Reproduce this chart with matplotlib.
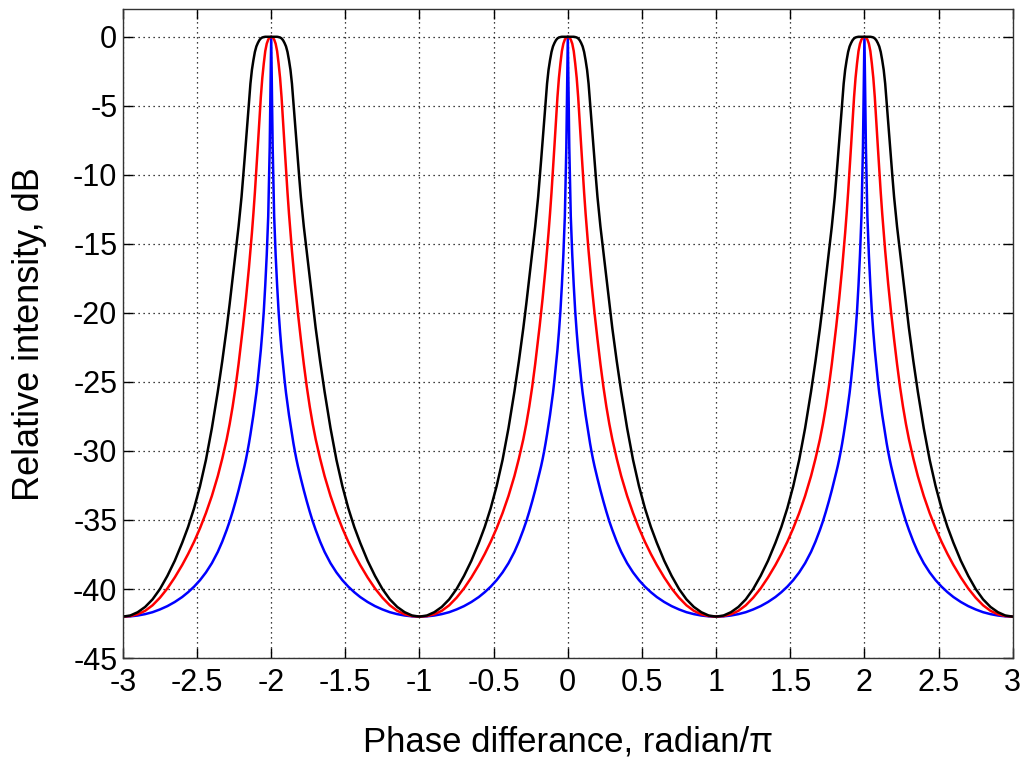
import matplotlib.pyplot as plt
import numpy as np

plt.rcParams['font.family'] = ['Liberation Sans', 'DejaVu Sans']
plt.rcParams['axes.unicode_minus'] = False

# half period (phase / pi from 0 to 1)
phase_half = [0, 0.01, 0.02, 0.03, 0.04, 0.05, 0.06, 0.07, 0.08, 0.09, 0.10,
              0.11, 0.12, 0.13, 0.14, 0.15, 0.16, 0.17, 0.18, 0.19, 0.20,
              0.22, 0.24, 0.26, 0.28, 0.30, 0.33, 0.36, 0.40, 0.44, 0.48,
              0.52, 0.56, 0.60, 0.65, 0.70, 0.75, 0.80, 0.85, 0.90, 0.95, 1.00]

blue_db = [0, -8.0, -13.0, -15.8, -18.0, -19.9, -21.4, -22.7, -23.8, -24.85, -25.8,
           -26.6, -27.4, -28.1, -28.8, -29.45, -30.05, -30.6, -31.1, -31.55, -32.0,
           -32.85, -33.65, -34.4, -35.1, -35.72, -36.57, -37.31, -38.13, -38.8, -39.36,
           -39.83, -40.23, -40.58, -40.94, -41.24, -41.48, -41.68, -41.82, -41.92, -41.98, -42.0]

red_db = [0, -0.05, -0.2, -0.5, -1.04, -1.94, -2.99, -4.39, -6.09, -7.89, -9.64,
          -11.29, -12.81, -14.21, -15.51, -16.73, -17.88, -18.96, -19.99, -20.97, -21.91,
          -23.71, -25.35, -26.79, -28.05, -29.15, -30.56, -31.82, -33.26, -34.5, -35.6,
          -36.58, -37.46, -38.26, -39.16, -39.96, -40.63, -41.18, -41.58, -41.83, -41.96, -42.0]

black_db = [0, 0, 0, 0, 0, -0.02, -0.05, -0.12, -0.25, -0.45, -0.7,
            -1.1, -1.7, -2.4, -3.4, -4.8, -6.2, -7.6, -8.95, -10.3, -11.6,
            -13.75, -15.6, -17.5, -19.35, -21.1, -23.5, -25.7, -28.35, -30.65, -32.55,
            -34.15, -35.5, -36.65, -37.95, -39.05, -40.0, -40.75, -41.3, -41.68, -41.92, -42.0]

peaks = [-2, 0, 2]
x_ticks = [-3, -2.5, -2, -1.5, -1, -0.5, 0, 0.5, 1, 1.5, 2, 2.5, 3]
y_ticks = [0, -5, -10, -15, -20, -25, -30, -35, -40, -45]


def full_curve(half):
    xs = np.array(phase_half)
    ys = np.array(half)
    # one period from -1 to 1 (mirror of the read half)
    xp = np.concatenate([-xs[::-1], xs[1:]])
    yp = np.concatenate([ys[::-1], ys[1:]])
    X, Y = [], []
    for i, c in enumerate(peaks):
        if i == 0:
            X.append(xp + c)
            Y.append(yp)
        else:
            X.append(xp[1:] + c)
            Y.append(yp[1:])
    return np.concatenate(X), np.concatenate(Y)


fig = plt.figure(figsize=(10.24, 7.64), dpi=100)
ax = fig.add_axes([0.120, 0.1387, 0.869, 0.8493])

for data, col in [(blue_db, 'b'), (red_db, 'r'), (black_db, 'k')]:
    x, y = full_curve(data)
    ax.plot(x, y, color=col, linewidth=1.8)

ax.set_xlim(-3, 3)
ax.set_ylim(-45, 2)
ax.set_xticks(x_ticks)
ax.set_xticklabels([('%g' % t) for t in x_ticks])
ax.set_yticks(y_ticks)
ax.grid(True, color='k', linestyle=(0, (1, 3)), linewidth=0.9)
ax.tick_params(direction='in', length=7, width=1, top=True, right=True,
               labelsize=22)
ax.tick_params(axis='x', pad=7)
ax.tick_params(axis='y', pad=4)
for s in ax.spines.values():
    s.set_linewidth(1.0)
    s.set_color('#333333')

ax.set_xlabel('Phase differance, radian/\u03c0', fontsize=25, labelpad=20)
ax.set_ylabel('Relative intensity, dB', fontsize=26, labelpad=19)

plt.savefig('out.png', dpi=100)
